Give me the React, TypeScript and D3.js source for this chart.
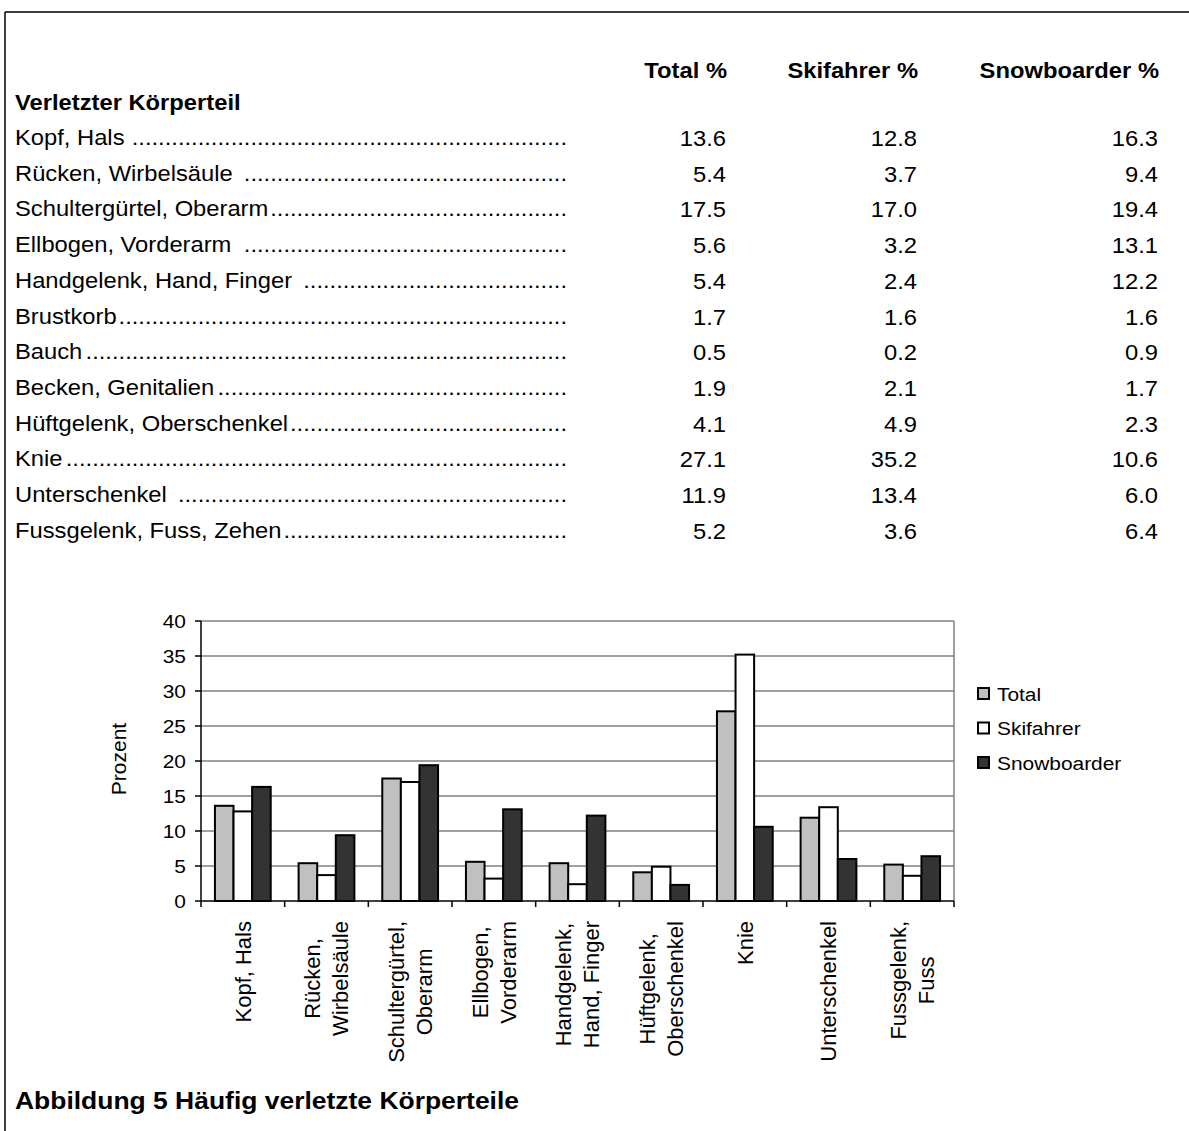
import React from "react";
import * as d3 from "d3";

const FONT = "'Liberation Sans', Arial, Helvetica, sans-serif";

// ---- Table data ----
const tableHeaders = ["Total %", "Skifahrer %", "Snowboarder %"];
const tableRowTitle = "Verletzter Körperteil";
const tableLabels = [
  "Kopf, Hals ",
  "Rücken, Wirbelsäule ",
  "Schultergürtel, Oberarm",
  "Ellbogen, Vorderarm ",
  "Handgelenk, Hand, Finger ",
  "Brustkorb",
  "Bauch",
  "Becken, Genitalien",
  "Hüftgelenk, Oberschenkel",
  "Knie",
  "Unterschenkel ",
  "Fussgelenk, Fuss, Zehen",
];
const tableTotal = [13.6, 5.4, 17.5, 5.6, 5.4, 1.7, 0.5, 1.9, 4.1, 27.1, 11.9, 5.2];
const tableSki = [12.8, 3.7, 17.0, 3.2, 2.4, 1.6, 0.2, 2.1, 4.9, 35.2, 13.4, 3.6];
const tableSnow = [16.3, 9.4, 19.4, 13.1, 12.2, 1.6, 0.9, 1.7, 2.3, 10.6, 6.0, 6.4];

// ---- Chart data ----
const chartCategories = [
  ["Kopf, Hals"],
  ["Rücken,", "Wirbelsäule"],
  ["Schultergürtel,", "Oberarm"],
  ["Ellbogen,", "Vorderarm"],
  ["Handgelenk,", "Hand, Finger"],
  ["Hüftgelenk,", "Oberschenkel"],
  ["Knie"],
  ["Unterschenkel"],
  ["Fussgelenk,", "Fuss"],
];
const seriesNames = ["Total", "Skifahrer", "Snowboarder"];
const seriesColors = ["#c0c0c0", "#ffffff", "#333333"];
const chartTotal = [13.6, 5.4, 17.5, 5.6, 5.4, 4.1, 27.1, 11.9, 5.2];
const chartSki = [12.8, 3.7, 17.0, 3.2, 2.4, 4.9, 35.2, 13.4, 3.6];
const chartSnow = [16.3, 9.4, 19.4, 13.1, 12.2, 2.3, 10.6, 6.0, 6.4];
const yTicks = [0, 5, 10, 15, 20, 25, 30, 35, 40];
const yAxisTitle = "Prozent";
const figureTitle = "Abbildung 5 Häufig verletzte Körperteile";

let measureCtx: CanvasRenderingContext2D | null = null;
function measure(text: string, size: number, bold = false) {
  if (!measureCtx) measureCtx = document.createElement("canvas").getContext("2d");
  if (!measureCtx) return text.length * size * 0.5;
  measureCtx.font = `${bold ? "bold " : ""}${size}px ${FONT}`;
  return measureCtx.measureText(text).width;
}

function T(props: {
  x: number;
  y: number;
  size: number;
  anchor?: string;
  bold?: boolean;
  sx?: number;
  children: React.ReactNode;
}) {
  const { x, y, size, anchor = "start", bold = false, sx = 1.08, children } = props;
  return (
    <text
      transform={`translate(${x},${y}) scale(${sx},1)`}
      fontSize={size}
      fontWeight={bold ? "bold" : "normal"}
      textAnchor={anchor}
      fontFamily={FONT}
      fill="#000"
      style={{ whiteSpace: "pre" }}
    >
      {children}
    </text>
  );
}

export default function App() {
  const W = 1189;
  const H = 1131;

  // table layout
  const rowY0 = 145;
  const rowStep = 35.7;
  const colRight = [726, 917, 1158];
  const leaderEnd = 567;
  const tableFont = 22;
  const tableSx = 1.08;
  const labelX = 15;

  // chart layout
  const plotL = 201, plotR = 954, plotT = 621, plotB = 901;
  const y = d3.scaleLinear().domain([0, 40]).range([plotB, plotT]);
  const x0 = d3
    .scaleBand<number>()
    .domain(chartCategories.map((_, i) => i))
    .range([plotL, plotR]);
  const bw = x0.bandwidth();
  const barW = bw / 4.5;
  const x1 = d3
    .scaleBand<number>()
    .domain([0, 1, 2])
    .range([(bw - 3 * barW) / 2, (bw + 3 * barW) / 2]);
  const seriesValues = [chartTotal, chartSki, chartSnow];

  const catFont = 22;
  const labelTop = 921;

  const dotW = measure(".", tableFont) * tableSx;

  return (
    <svg
      width={W}
      height={H}
      style={{ position: "absolute", left: 0, top: 0, display: "block", background: "#fff" }}
    >
      <rect x={0} y={0} width={W} height={H} fill="#fff" />
      {/* frame */}
      <line x1={5} y1={12} x2={W} y2={12} stroke="#000" strokeWidth={1.5} />
      <line x1={5} y1={12} x2={5} y2={H} stroke="#000" strokeWidth={1.5} />

      {/* table headers */}
      {tableHeaders.map((h, i) => (
        <T key={h} x={colRight[i] + 1} y={78} size={tableFont} anchor="end" bold sx={tableSx}>
          {h}
        </T>
      ))}
      <T x={labelX} y={110} size={tableFont} bold sx={tableSx}>
        {tableRowTitle}
      </T>
      {tableLabels.map((lab, i) => {
        const lw = measure(lab, tableFont) * tableSx;
        const n = Math.max(0, Math.floor((leaderEnd - labelX - lw) / dotW));
        const yy = rowY0 + i * rowStep;
        return (
          <g key={lab}>
            <T x={labelX} y={yy} size={tableFont} sx={tableSx}>
              {lab}
            </T>
            <T x={leaderEnd} y={yy} size={tableFont} sx={tableSx} anchor="end">
              {".".repeat(n)}
            </T>
          </g>
        );
      })}
      {[tableTotal, tableSki, tableSnow].map((col, c) =>
        col.map((v, i) => (
          <T key={`${c}-${i}`} x={colRight[c]} y={rowY0 + 1 + i * rowStep} size={tableFont} anchor="end" sx={tableSx}>
            {v.toFixed(1)}
          </T>
        ))
      )}

      {/* gridlines */}
      {yTicks.filter((t) => t > 0).map((t) => (
        <line key={t} x1={plotL} x2={plotR} y1={y(t)} y2={y(t)} stroke="#808080" strokeWidth={1.5} />
      ))}
      <line x1={plotR} x2={plotR} y1={plotT} y2={plotB} stroke="#808080" strokeWidth={1.5} />

      {/* bars */}
      {chartCategories.map((_, ci) => (
        <g key={ci} transform={`translate(${x0(ci)},0)`}>
          {seriesValues.map((vals, si) => (
            <rect
              key={si}
              x={x1(si)}
              y={y(vals[ci])}
              width={barW}
              height={y(0) - y(vals[ci])}
              fill={seriesColors[si]}
              stroke="#000"
              strokeWidth={2}
            />
          ))}
        </g>
      ))}

      {/* axes */}
      <line x1={plotL} x2={plotL} y1={plotT} y2={plotB} stroke="#000" strokeWidth={1.5} />
      <line x1={plotL} x2={plotR} y1={plotB} y2={plotB} stroke="#000" strokeWidth={1.5} />
      {yTicks.map((t) => (
        <g key={t}>
          <line x1={plotL - 6} x2={plotL} y1={y(t)} y2={y(t)} stroke="#000" strokeWidth={1.5} />
          <T x={186} y={y(t) + 6.5} size={19} anchor="end" sx={1.1}>
            {String(t)}
          </T>
        </g>
      ))}
      {d3.range(chartCategories.length + 1).map((i) => {
        const xx = plotL + i * bw;
        return <line key={i} x1={xx} x2={xx} y1={plotB} y2={plotB + 6} stroke="#000" strokeWidth={1.5} />;
      })}

      {/* category labels */}
      {chartCategories.map((lines, ci) => {
        const cx = (x0(ci) as number) + bw / 2;
        const maxW = Math.max(...lines.map((l) => measure(l, catFont)));
        const cy = labelTop + maxW / 2;
        const spacing = 28;
        return lines.map((l, li) => {
          const off = (li - (lines.length - 1) / 2) * spacing;
          const bx = cx + off + 7.8;
          return (
            <text
              key={`${ci}-${li}`}
              transform={`translate(${bx},${cy}) rotate(-90)`}
              fontSize={catFont}
              fontFamily={FONT}
              textAnchor="middle"
              fill="#000"
            >
              {l}
            </text>
          );
        });
      })}

      {/* y axis title */}
      <text
        transform={`translate(126,${(plotT + plotB) / 2 - 2}) rotate(-90)`}
        fontSize={21}
        fontFamily={FONT}
        textAnchor="middle"
        fill="#000"
      >
        {yAxisTitle}
      </text>

      {/* legend */}
      {seriesNames.map((s, i) => {
        const cy = 693.5 + i * 34.5;
        return (
          <g key={s}>
            <rect x={978} y={cy - 5.5} width={11} height={11} fill={seriesColors[i]} stroke="#000" strokeWidth={2} />
            <T x={997} y={cy + 7} size={19} sx={1.1}>
              {s}
            </T>
          </g>
        );
      })}

      {/* figure title */}
      <T x={15} y={1109} size={24.5} bold sx={1.08}>
        {figureTitle}
      </T>
    </svg>
  );
}
